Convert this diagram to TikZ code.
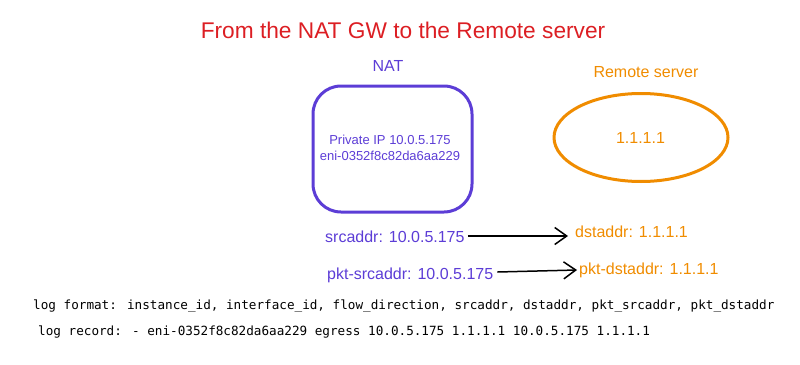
\documentclass[tikz,border=0pt]{standalone}
\usepackage{fontspec}
\setmainfont{Liberation Sans}
\newfontfamily\logfont{DejaVu Sans Mono}
\usetikzlibrary{arrows.meta,shapes.geometric}
\definecolor{natpurple}{RGB}{92,61,214}
\definecolor{remorange}{RGB}{240,140,0}
\definecolor{titlered}{RGB}{220,30,35}
\tikzset{
  purpletext/.style={text=natpurple, inner sep=0pt, font=\fontsize{16}{18}\selectfont},
  orangetext/.style={text=remorange, inner sep=0pt, font=\fontsize{16}{18}\selectfont},
  logtext/.style={inner sep=0pt, anchor=west, font=\logfont\fontsize{12.65}{14}\selectfont},
  flowarrow/.style={-{Straight Barb[length=12pt,width=17pt,line width=1.5pt]}, line width=1.5pt, black},
}
\begin{document}
\begin{tikzpicture}[x=1pt,y=-1pt]
\useasboundingbox (0,0) rectangle (800,364);
\node[text=titlered, inner sep=0pt, font=\fontsize{22.7}{26}\selectfont] (title) at (403,30) {From the NAT GW to the Remote server};
% NAT
\node[purpletext] (natlabel) at (388,66) {NAT};
\node[draw=natpurple, line width=3pt, rounded corners=28pt, minimum width=159pt, minimum height=126pt, inner sep=0pt] (nat) at (392.5,149) {};
\node[text=natpurple, inner sep=0pt, align=center, font=\fontsize{13}{16}\selectfont] (natinfo) at (390,148) {Private IP 10.0.5.175\\eni-0352f8c82da6aa229};
% Remote
\node[orangetext] (remlabel) at (646,72) {Remote server};
\node[draw=remorange, line width=3pt, ellipse, minimum width=174pt, minimum height=88pt, inner sep=0pt] (remote) at (641,137.5) {};
\node[orangetext] (remip) at (640.5,138) {1.1.1.1};
% Flow labels
\node[purpletext, anchor=west] (src) at (325,237) {srcaddr: 10.0.5.175};
\node[orangetext, anchor=west] (dst) at (575,232) {dstaddr: 1.1.1.1};
\node[purpletext, anchor=west] (pktsrc) at (327,275) {pkt-srcaddr: 10.0.5.175};
\node[orangetext, anchor=west] (pktdst) at (579,270) {pkt-dstaddr: 1.1.1.1};
\draw[flowarrow] ([xshift=3pt,yshift=1pt]src.east) -- ([xshift=-7pt,yshift=1pt]src.east -| dst.west);
\draw[flowarrow] ([xshift=4pt,yshift=3pt]pktsrc.east) -- ([xshift=-2pt,yshift=0pt]pktdst.west);
% Log
\node[logtext] (logfmt) at (33,306) {log format: instance\_id, interface\_id, flow\_direction, srcaddr, dstaddr, pkt\_srcaddr, pkt\_dstaddr};
\node[logtext] (logrec) at (38,332) {log record: - eni-0352f8c82da6aa229 egress 10.0.5.175 1.1.1.1 10.0.5.175 1.1.1.1};
\end{tikzpicture}
\end{document}
